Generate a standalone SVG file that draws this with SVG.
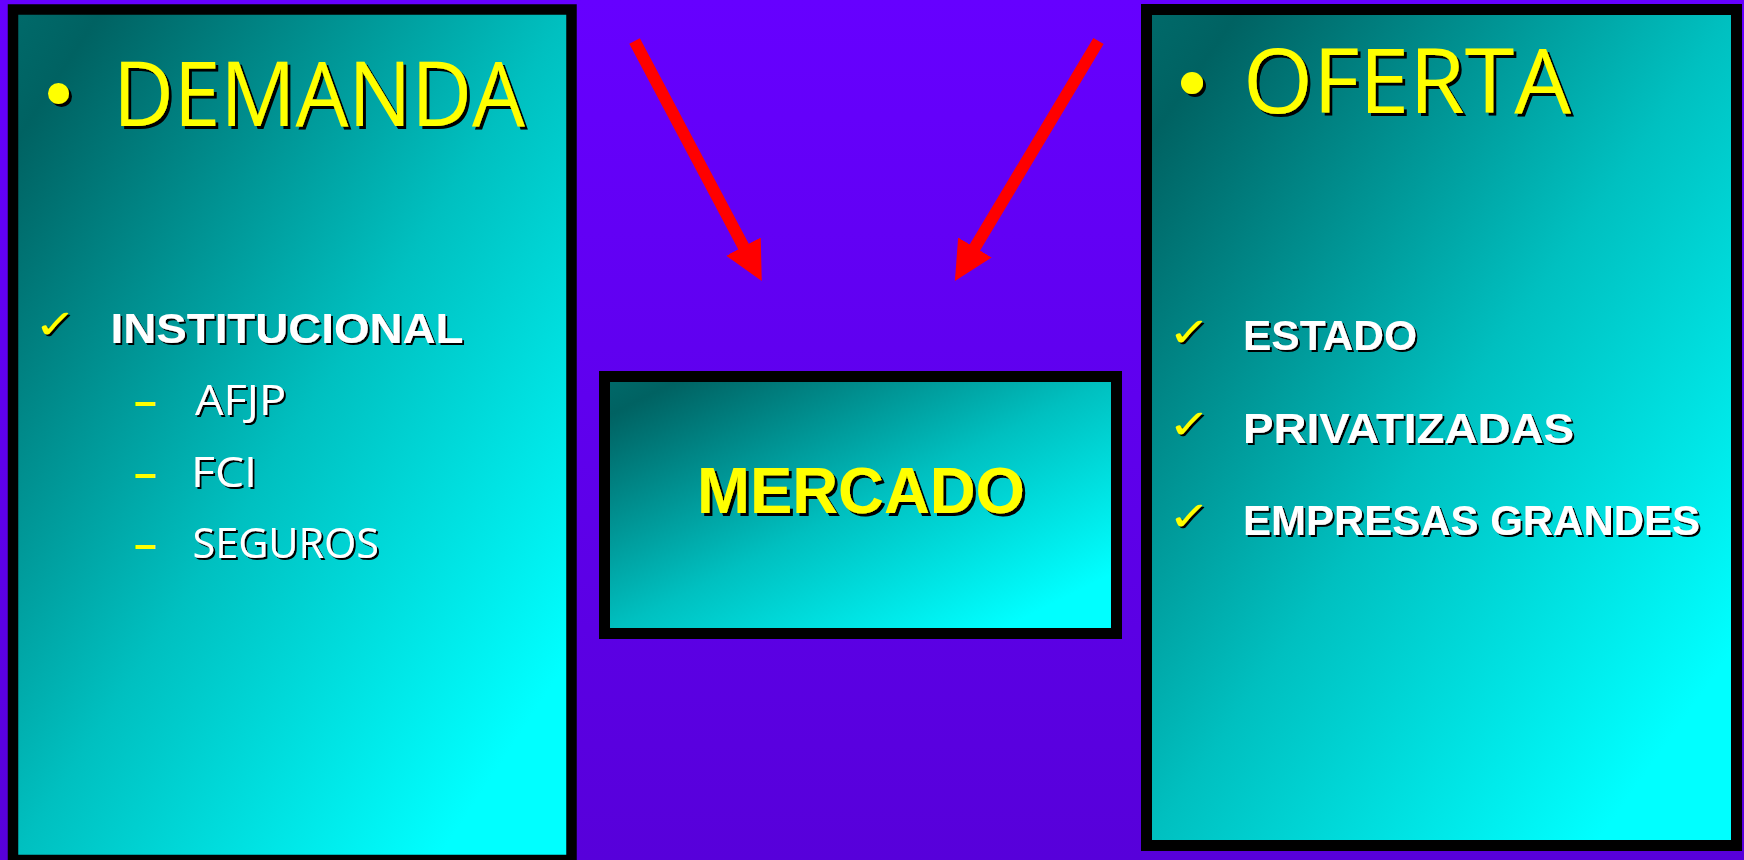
<svg xmlns="http://www.w3.org/2000/svg" width="1744" height="860" viewBox="0 0 1744 860">
  <defs>
    <linearGradient id="bg" x1="0" y1="0" x2="0" y2="1">
      <stop offset="0" stop-color="#6600FF"/>
      <stop offset="1" stop-color="#5700DA"/>
    </linearGradient>
    <linearGradient id="teal" x1="0" y1="0" x2="1" y2="1">
      <stop offset="0" stop-color="#006a6a"/>
      <stop offset="0.08" stop-color="#006262"/>
      <stop offset="0.5" stop-color="#00c0c0"/>
      <stop offset="0.88" stop-color="#00ffff"/>
      <stop offset="1" stop-color="#00ffff"/>
    </linearGradient>
    <filter id="sh3" x="-5%" y="-5%" width="115%" height="125%">
      <feOffset in="SourceAlpha" dx="3" dy="3" result="o"/>
      <feMerge><feMergeNode in="o"/><feMergeNode in="SourceGraphic"/></feMerge>
    </filter>
    <filter id="sh2" x="-5%" y="-5%" width="115%" height="125%">
      <feOffset in="SourceAlpha" dx="2" dy="2" result="o"/>
      <feMerge><feMergeNode in="o"/><feMergeNode in="SourceGraphic"/></feMerge>
    </filter>
    <marker id="head" viewBox="0 0 10 10" refX="0.5" refY="5" markerWidth="3.25" markerHeight="3.3" orient="auto" markerUnits="strokeWidth">
      <path d="M0,0 L10,5 L0,10 z" fill="#FF0000"/>
    </marker>
  </defs>
  <style>
    .panel { fill: url(#teal); stroke: #000; }
    .title { font-family: "Open Sans", "Noto Sans", sans-serif; font-size: 90px; fill: #FFFF00; filter: url(#sh3); }
    .bul { fill: #FFFF00; filter: url(#sh3); }
    .bold { font-family: "Liberation Sans", Arial, sans-serif; font-weight: bold; font-size: 43px; fill: #FFFFFF; filter: url(#sh2); }
    .sub { font-family: "Open Sans", "Noto Sans", sans-serif; font-size: 42px; fill: #FFFFFF; filter: url(#sh2); }
    .dash { font-family: "Liberation Sans", Arial, sans-serif; font-weight: bold; font-size: 40px; fill: #FFFF00; }
    .chk { font-family: "DejaVu Sans", sans-serif; font-size: 40px; fill: #FFFF00; filter: url(#sh2); }
    .merc { font-family: "Liberation Sans", Arial, sans-serif; font-weight: bold; font-size: 65px; fill: #FFFF00; filter: url(#sh3); }
    .arrow { stroke: #FF0000; stroke-width: 12; fill: none; marker-end: url(#head); }
  </style>
  <rect x="0" y="0" width="1744" height="860" fill="url(#bg)"/>

  <g id="node-demanda">
    <rect class="panel" x="13" y="9.5" width="558.5" height="850.5" stroke-width="10.5"/>
    <circle class="bul" cx="58.5" cy="93.5" r="10.5"/>
    <text class="title" x="113" y="126" textLength="412" lengthAdjust="spacingAndGlyphs">DEMANDA</text>
    <text class="chk" x="34" y="338" textLength="43" lengthAdjust="spacingAndGlyphs">✓</text>
    <text class="bold" x="110.5" y="343" textLength="353" lengthAdjust="spacingAndGlyphs">INSTITUCIONAL</text>
    <text class="dash" x="134" y="415">–</text>
    <text class="sub" x="195" y="415" textLength="91" lengthAdjust="spacingAndGlyphs">AFJP</text>
    <text class="dash" x="134" y="487">–</text>
    <text class="sub" x="191" y="487" textLength="66" lengthAdjust="spacingAndGlyphs">FCI</text>
    <text class="dash" x="134" y="558">–</text>
    <text class="sub" x="192.5" y="558" textLength="186.5" lengthAdjust="spacingAndGlyphs">SEGUROS</text>
  </g>

  <g id="node-mercado">
    <rect class="panel" x="604.5" y="376.5" width="512" height="257" stroke-width="11"/>
    <text class="merc" x="697" y="513" textLength="328" lengthAdjust="spacingAndGlyphs">MERCADO</text>
  </g>

  <g id="node-oferta">
    <rect class="panel" x="1146.5" y="9.5" width="590" height="836" stroke-width="11"/>
    <circle class="bul" cx="1192" cy="83" r="11"/>
    <text class="title" x="1243" y="113" textLength="328" lengthAdjust="spacingAndGlyphs">OFERTA</text>
    <text class="chk" x="1168" y="346" textLength="43" lengthAdjust="spacingAndGlyphs">✓</text>
    <text class="bold" x="1243" y="350" textLength="174" lengthAdjust="spacingAndGlyphs">ESTADO</text>
    <text class="chk" x="1168" y="438" textLength="43" lengthAdjust="spacingAndGlyphs">✓</text>
    <text class="bold" x="1243" y="443" textLength="331" lengthAdjust="spacingAndGlyphs">PRIVATIZADAS</text>
    <text class="chk" x="1168" y="530" textLength="43" lengthAdjust="spacingAndGlyphs">✓</text>
    <text class="bold" x="1243" y="535" textLength="457" lengthAdjust="spacingAndGlyphs">EMPRESAS GRANDES</text>
  </g>

  <g id="connectors">
    <line class="arrow" x1="634.6" y1="41" x2="744.4" y2="248.3"/>
    <line class="arrow" x1="1098.5" y1="41" x2="973.9" y2="249.2"/>
  </g>
</svg>
